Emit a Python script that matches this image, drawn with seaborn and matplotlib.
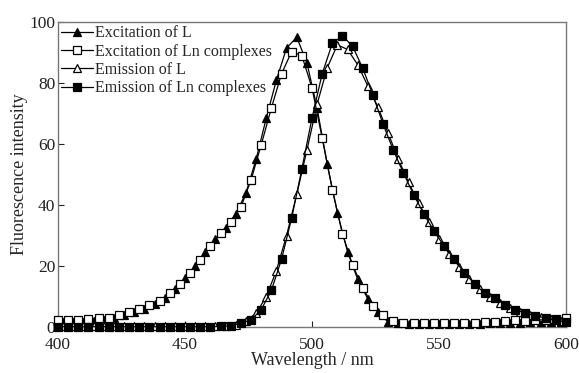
import numpy as np
import matplotlib
matplotlib.use("Agg")
import matplotlib.pyplot as plt
import seaborn as sns

# wavelengths (nm): squares sampled on 400+4k, triangles on 402+4k
wl_sq = np.arange(400, 601, 4)
wl_tri = np.arange(402, 599, 4)

# Excitation of L (filled triangles)
ex_L = [1.5, 1.5, 1.8, 2.0, 2.3, 3.0, 3.8, 4.8, 6.0, 7.5,
        9.5, 12.5, 16.0, 20.0, 24.5, 29.0, 32.5, 37.0, 44.0, 55.0,
        68.5, 81.0, 91.5, 95.0, 86.6, 71.8, 53.4, 37.5, 24.6, 15.6,
        9.2, 4.8, 1.6, 1.2, 1.1, 1.1, 1.1, 1.1, 1.1, 1.1,
        1.1, 1.1, 1.2, 1.2, 1.3, 1.4, 1.5, 1.6, 1.6, 1.7]

# Excitation of Ln complexes (open squares)
ex_Ln = [2.3, 2.3, 2.3, 2.6, 2.8, 3.0, 4.0, 5.0, 6.0, 7.2,
         8.5, 11.0, 14.0, 17.7, 22.0, 26.6, 30.8, 34.4, 39.3, 48.2,
         59.7, 71.8, 83.0, 90.3, 89.0, 78.4, 62.0, 45.0, 30.5, 20.3,
         12.8, 7.0, 4.0, 2.0, 1.4, 1.3, 1.3, 1.3, 1.3, 1.3,
         1.3, 1.4, 1.5, 1.7, 1.9, 2.2, 2.0, 2.2, 2.4, 2.5,
         2.8]

# Emission of L (open triangles)
em_L = [0.2, 0.2, 0.2, 0.2, 0.2, 0.2, 0.2, 0.2, 0.2, 0.2,
        0.2, 0.2, 0.2, 0.2, 0.2, 0.3, 0.4, 0.8, 2.0, 4.5,
        10.0, 18.5, 30.0, 43.5, 58.0, 73.0, 85.0, 92.5, 91.0, 86.0,
        79.0, 72.0, 63.5, 55.0, 47.5, 40.5, 34.5, 29.0, 24.0, 19.8,
        15.8, 12.5, 10.0, 8.0, 6.3, 5.0, 4.0, 3.2, 2.6, 2.0]

# Emission of Ln complexes (filled squares)
em_Ln = [0.1, 0.1, 0.1, 0.1, 0.1, 0.1, 0.1, 0.1, 0.1, 0.1,
         0.1, 0.1, 0.1, 0.1, 0.1, 0.1, 0.2, 0.4, 1.3, 2.3,
         5.7, 12.0, 22.2, 35.7, 51.8, 68.5, 83.0, 93.0, 95.5, 92.0,
         84.8, 76.0, 66.5, 58.0, 50.5, 43.4, 37.2, 31.5, 26.6, 22.3,
         17.7, 14.2, 11.0, 9.5, 7.2, 5.6, 4.6, 3.6, 3.0, 2.3,
         1.6]

labels = ["Excitation of L", "Excitation of Ln complexes",
          "Emission of L", "Emission of Ln complexes"]

sns.set_style("ticks")
plt.rcParams['font.family'] = ['Liberation Serif', 'DejaVu Serif']

fig = plt.figure(figsize=(5.79, 3.73), dpi=100)
ax = fig.add_axes([0.1002, 0.1233, 0.8773, 0.8177])

common = dict(color='black', linewidth=0.9, markersize=6.0,
              markeredgewidth=0.9, markeredgecolor='black', clip_on=False, ax=ax)

sns.lineplot(x=wl_tri, y=ex_L, marker='^', markerfacecolor='black',
             label=labels[0], zorder=3, **common)
sns.lineplot(x=wl_sq, y=ex_Ln, marker='s', markerfacecolor='white',
             label=labels[1], zorder=4, **common)
sns.lineplot(x=wl_tri, y=em_L, marker='^', markerfacecolor='white',
             label=labels[2], zorder=3, **common)
sns.lineplot(x=wl_sq, y=em_Ln, marker='s', markerfacecolor='black',
             label=labels[3], zorder=5, **common)

ax.set_xlim(400, 600)
ax.set_ylim(0, 100)
ax.set_xticks([400, 450, 500, 550, 600])
ax.set_yticks([0, 20, 40, 60, 80, 100])
ax.tick_params(direction='in', length=4, width=0.8, labelsize=12.5,
               colors='#222222', pad=2)
ax.tick_params(axis='x', pad=7.5)
for s in ax.spines.values():
    s.set_color('#777777')
    s.set_linewidth(1.0)

ax.set_xlabel("Wavelength / nm", fontsize=13, labelpad=-1)
ax.set_ylabel("Fluorescence intensity", fontsize=13, labelpad=1)

leg = ax.legend(loc='upper left', frameon=False, fontsize=11.5,
                handlelength=2.0, handletextpad=0.1, labelspacing=0.15,
                borderaxespad=0.1, borderpad=0.1)

fig.savefig("out.png", dpi=100)
